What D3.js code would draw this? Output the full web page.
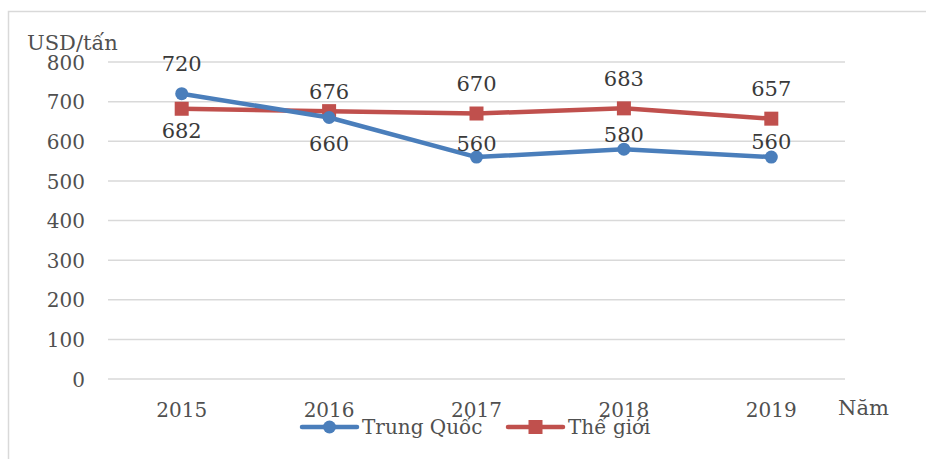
<!DOCTYPE html>
<html>
<head>
<meta charset="utf-8">
<script src="https://cdn.jsdelivr.net/npm/d3@7"></script>
<style>
  html, body { margin: 0; padding: 0; background: #fff; }
  svg { display: block; }
  text { font-family: "DejaVu Serif", serif; }
</style>
</head>
<body>
<svg id="chart" width="926" height="459"></svg>
<script>
// Giá xuất khẩu bình quân (USD/tấn), 2015–2019
const years = ["2015", "2016", "2017", "2018", "2019"];
const trungQuoc = [720, 660, 560, 580, 560];
const theGioi = [682, 676, 670, 683, 657];
const yTicks = [0, 100, 200, 300, 400, 500, 600, 700, 800];
const seriesNames = ["Trung Quốc", "Thế giới"];

// Vertical offset of each data label from its point (negative = above)
const tqLabelDy = [-30, 26, -14, -15, -16];
const tgLabelDy = [22, -20, -30, -30, -30];

const svg = d3.select("#chart");
const plot = { left: 108, right: 845, top: 62, bottom: 379 };
const axisText = "#505050", labelText = "#3a3a3a";

// Outer chart border
svg.append("rect")
  .attr("x", 8.5).attr("y", 11.5)
  .attr("width", 930).attr("height", 460)
  .attr("fill", "none").attr("stroke", "#d9d9d9").attr("stroke-width", 1.5);

const x = d3.scaleBand().domain(years).range([plot.left, plot.right]);
const y = d3.scaleLinear().domain([0, 800]).range([plot.bottom, plot.top]);

// Gridlines
svg.append("g").selectAll("line").data(yTicks).join("line")
  .attr("x1", plot.left).attr("x2", plot.right)
  .attr("y1", d => y(d)).attr("y2", d => y(d))
  .attr("stroke", "#d9d9d9").attr("stroke-width", 1.5);

// Y axis labels
const yAxis = d3.axisLeft(y).tickValues(yTicks).tickSize(0).tickPadding(0);
const gy = svg.append("g").attr("transform", `translate(${plot.left - 23},0)`).call(yAxis);
gy.select(".domain").remove();
gy.selectAll("text")
  .attr("font-family", "DejaVu Serif").attr("font-size", 20)
  .attr("fill", axisText).attr("dy", "0.36em");

// X axis labels
const xAxis = d3.axisBottom(x).tickSize(0).tickPadding(0);
const gx = svg.append("g").attr("transform", `translate(0,${plot.bottom})`).call(xAxis);
gx.select(".domain").remove();
gx.selectAll("text")
  .attr("font-family", "DejaVu Serif").attr("font-size", 20)
  .attr("fill", axisText).attr("y", 38).attr("dy", 0);

// Axis titles
svg.append("text").attr("x", 27).attr("y", 50)
  .attr("font-size", 21).attr("fill", axisText).text("USD/tấn");
svg.append("text").attr("x", 838).attr("y", 415)
  .attr("font-size", 21).attr("fill", axisText).text("Năm");

const cx = d => x(d) + x.bandwidth() / 2;
const line = d3.line().x(d => cx(d.year)).y(d => y(d.value));

const blue = "#4a7ebb", red = "#c0504d";
const tqData = years.map((yr, i) => ({ year: yr, value: trungQuoc[i], dy: tqLabelDy[i] }));
const tgData = years.map((yr, i) => ({ year: yr, value: theGioi[i], dy: tgLabelDy[i] }));

// Thế giới series
svg.append("path").datum(tgData).attr("d", line)
  .attr("fill", "none").attr("stroke", red).attr("stroke-width", 4.5)
  .attr("stroke-linejoin", "round").attr("stroke-linecap", "round");
svg.append("g").selectAll("rect").data(tgData).join("rect")
  .attr("x", d => cx(d.year) - 7).attr("y", d => y(d.value) - 7)
  .attr("width", 14).attr("height", 14).attr("fill", red);

// Trung Quốc series
svg.append("path").datum(tqData).attr("d", line)
  .attr("fill", "none").attr("stroke", blue).attr("stroke-width", 4.5)
  .attr("stroke-linejoin", "round").attr("stroke-linecap", "round");
svg.append("g").selectAll("circle").data(tqData).join("circle")
  .attr("cx", d => cx(d.year)).attr("cy", d => y(d.value))
  .attr("r", 6.5).attr("fill", blue);

// Data labels
function labels(data) {
  svg.append("g").selectAll("text").data(data).join("text")
    .attr("x", d => cx(d.year)).attr("y", d => y(d.value) + d.dy)
    .attr("dy", "0.36em").attr("text-anchor", "middle")
    .attr("font-size", 21).attr("fill", labelText)
    .text(d => d.value);
}
labels(tqData);
labels(tgData);

// Legend
const legendY = 427;
const leg = [
  { name: seriesNames[0], color: blue, x0: 302, shape: "circle" },
  { name: seriesNames[1], color: red, x0: 508, shape: "rect" }
];
leg.forEach(l => {
  const g = svg.append("g");
  g.append("line").attr("x1", l.x0).attr("x2", l.x0 + 55)
    .attr("y1", legendY).attr("y2", legendY)
    .attr("stroke", l.color).attr("stroke-width", 4.5).attr("stroke-linecap", "round");
  if (l.shape === "circle") {
    g.append("circle").attr("cx", l.x0 + 27.5).attr("cy", legendY).attr("r", 6.5).attr("fill", l.color);
  } else {
    g.append("rect").attr("x", l.x0 + 20.5).attr("y", legendY - 7).attr("width", 14).attr("height", 14).attr("fill", l.color);
  }
  g.append("text").attr("x", l.x0 + 60).attr("y", legendY).attr("dy", "0.36em")
    .attr("font-size", 20).attr("fill", axisText).text(l.name);
});
</script>
</body>
</html>
